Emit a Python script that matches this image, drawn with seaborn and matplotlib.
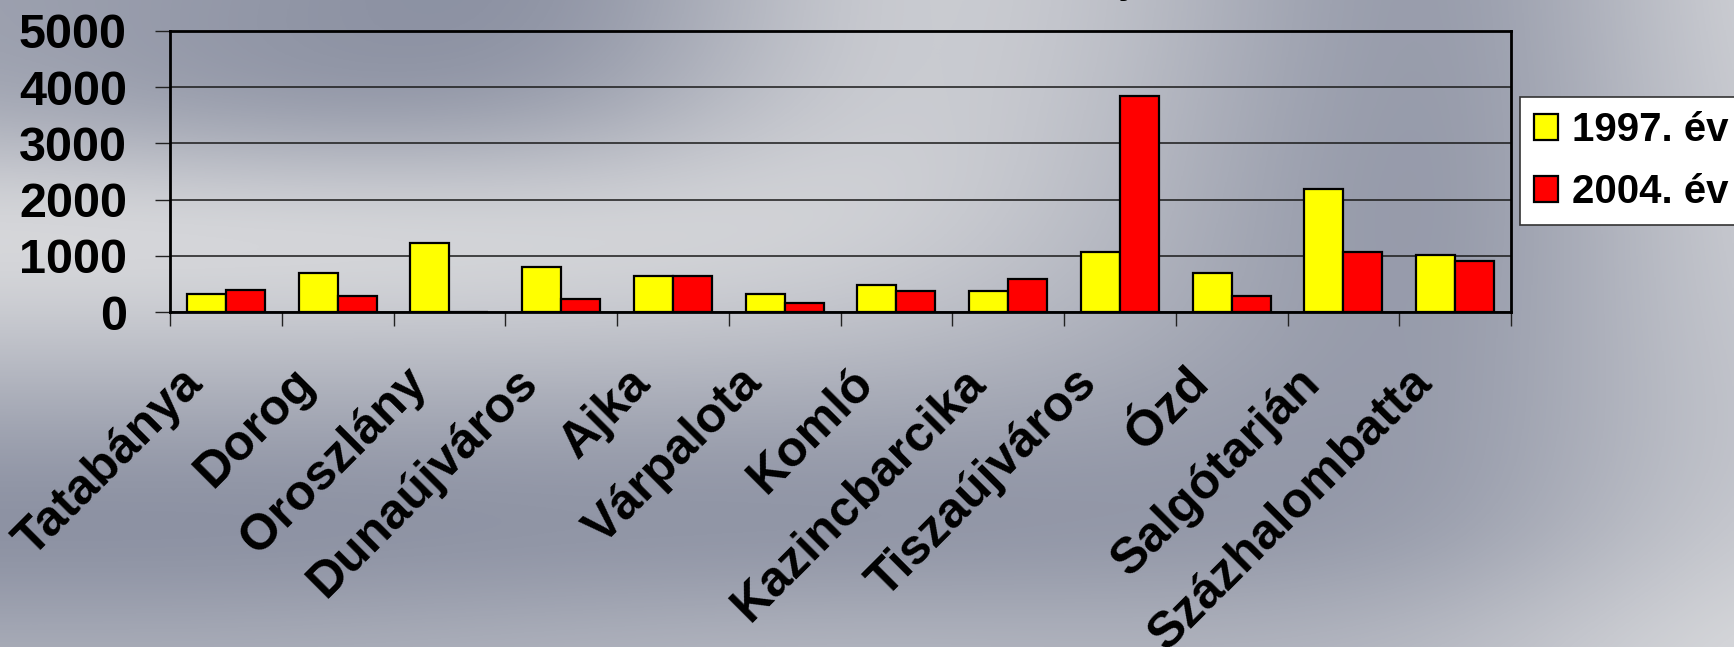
import numpy as np
import pandas as pd
import matplotlib
matplotlib.use("Agg")
import matplotlib.pyplot as plt
from matplotlib.colors import LinearSegmentedColormap
import matplotlib.transforms as mtransforms
import seaborn as sns

# --- Data ---
varosok = ["Tatabánya", "Dorog", "Oroszlány", "Dunaújváros", "Ajka", "Várpalota",
           "Komló", "Kazincbarcika", "Tiszaújváros", "Ózd", "Salgótarján", "Százhalombatta"]
ev_1997 = [320, 700, 1230, 800, 640, 320, 480, 375, 1065, 700, 2190, 1020]
ev_2004 = [385, 280, 0, 225, 640, 165, 375, 595, 3850, 280, 1070, 910]
evek = ["1997. év", "2004. év"]
y_ticks = [0, 1000, 2000, 3000, 4000, 5000]

df = pd.DataFrame({
    "varos": varosok * 2,
    "ev": [evek[0]] * len(varosok) + [evek[1]] * len(varosok),
    "ertek": ev_1997 + ev_2004,
})

sns.set_style("ticks")
plt.rcParams["font.family"] = ["Liberation Sans", "DejaVu Sans"]
plt.rcParams["font.weight"] = "bold"
plt.rcParams["text.color"] = "black"
plt.rcParams["xtick.color"] = "black"
plt.rcParams["ytick.color"] = "black"

W, H = 1734, 647
fig = plt.figure(figsize=(W / 100, H / 100), dpi=100)

# --- metallic slide background (decoration only) ---
bg = np.array([
    [0.30, 0.20, 0.05, 0.85, 0.60, 0.05, 0.85],
    [0.35, 0.12, 0.20, 0.85, 0.55, 0.05, 0.80],
    [0.95, 0.95, 0.90, 0.85, 0.50, 0.05, 0.80],
    [0.70, 0.70, 0.70, 0.65, 0.45, 0.10, 0.75],
    [0.30, 0.30, 0.30, 0.30, 0.28, 0.15, 0.70],
    [0.05, 0.05, 0.10, 0.10, 0.15, 0.20, 0.75],
    [0.45, 0.45, 0.50, 0.55, 0.50, 0.55, 0.90],
])
cmap = LinearSegmentedColormap.from_list("metal", ["#7d8397", "#e8e8e8"])
bax = fig.add_axes([0, 0, 1, 1], zorder=-10)
dx = W / (bg.shape[1] - 1)
dy = H / (bg.shape[0] - 1)
bax.imshow(bg, cmap=cmap, vmin=0, vmax=1, interpolation="bicubic", aspect="auto",
           extent=(-dx / 2, W + dx / 2, H + dy / 2, -dy / 2))
bax.set_xlim(0, W)
bax.set_ylim(H, 0)
bax.axis("off")

# --- bar chart ---
ax = fig.add_axes([170 / W, 1 - 312 / H, (1511 - 170) / W, (312 - 31) / H])
ax.set_facecolor("none")
sns.barplot(data=df, x="varos", y="ertek", hue="ev", palette=["#ffff00", "#ff0000"],
            saturation=1, edgecolor="black", linewidth=1.6, width=0.7, ax=ax, zorder=3)

ax.set_ylim(0, 5000)
ax.set_yticks(y_ticks)
ax.set_yticklabels([str(v) for v in y_ticks], fontsize=35, fontweight="bold")
ax.yaxis.grid(True, color="#1a1a1a", lw=1.1, zorder=1)
ax.set_axisbelow(True)
ax.tick_params(axis="y", length=11, width=1, pad=20, color="#222")

n = len(varosok)
ax.set_xlim(-0.5, n - 0.5)
ax.set_xticks(np.arange(n + 1) - 0.5)
ax.set_xticklabels([""] * (n + 1))
ax.set_xticks(np.arange(n), minor=True)
ax.set_xticklabels(varosok, minor=True, rotation=45, ha="right", va="center",
                   rotation_mode="anchor", fontsize=36, fontweight="bold")
ax.tick_params(axis="x", which="major", length=10, width=1, color="#222")
ax.tick_params(axis="x", which="minor", length=0, pad=46)
shift = mtransforms.ScaledTranslation(-30 / 100, 0, fig.dpi_scale_trans)
for lab in ax.get_xticklabels(minor=True):
    lab.set_transform(lab.get_transform() + shift)

ax.set_xlabel("")
ax.set_ylabel("")
for side in ["left", "right", "top", "bottom"]:
    ax.spines[side].set_visible(True)
    ax.spines[side].set_color("black")
    ax.spines[side].set_linewidth(2.0)

leg = ax.legend(loc="upper left", bbox_to_anchor=(1520 / W, 1 - 97 / H),
                bbox_transform=fig.transFigure, fontsize=29, frameon=True,
                fancybox=False, handlelength=0.6, handleheight=0.6,
                handletextpad=0.35, borderpad=0.35, labelspacing=0.6,
                borderaxespad=0)
leg.get_frame().set_edgecolor("#333333")
leg.get_frame().set_linewidth(1.2)
leg.get_frame().set_facecolor("white")
leg.get_frame().set_alpha(1)
for t in leg.get_texts():
    t.set_fontweight("bold")
    t.set_color("black")

# trace of the slide title, cut off by the top edge
fig.text(1126 / W, 1 + 7 / H, "j", fontsize=28, fontweight="bold",
         ha="center", va="baseline")

fig.savefig("out.png", dpi=100)
